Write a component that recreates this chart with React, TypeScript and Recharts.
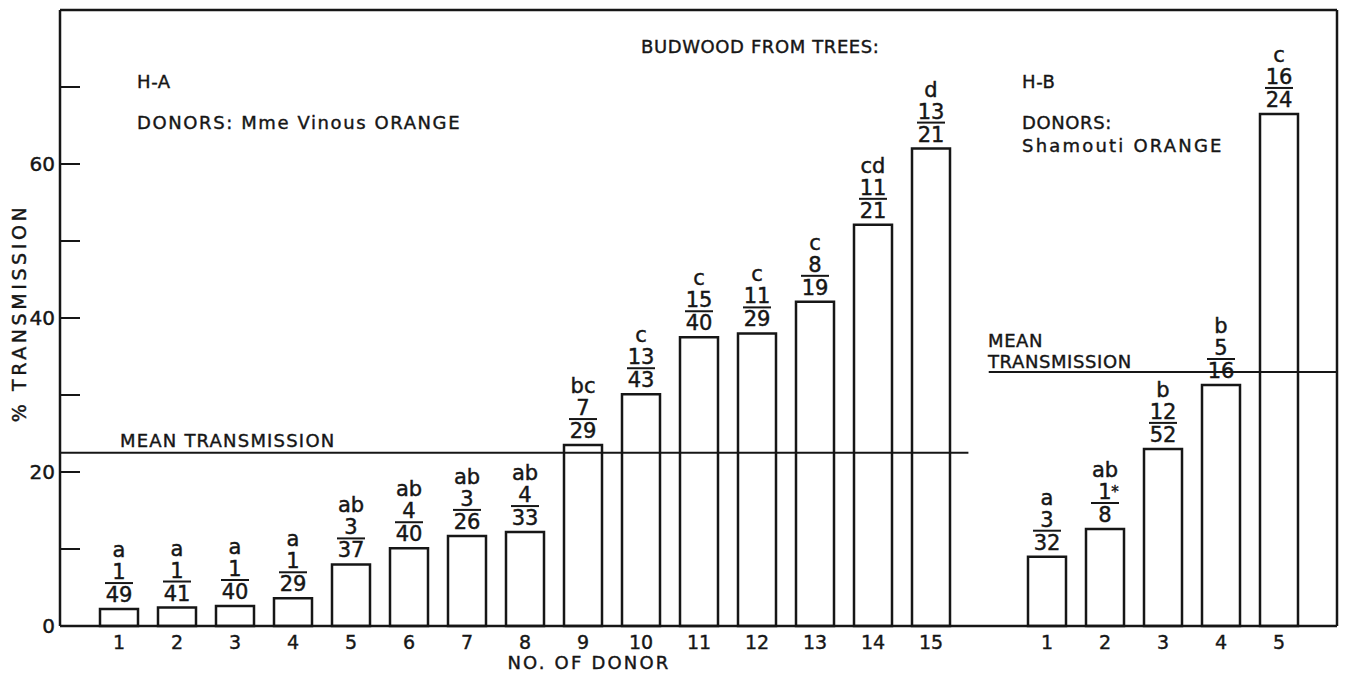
import { Bar, BarChart, LabelList, ReferenceLine, XAxis, YAxis } from "recharts";

// one slot per donor, with an empty slot between the two tree groups
const slots = [
  "A1", "A2", "A3", "A4", "A5", "A6", "A7", "A8", "A9", "A10", "A11", "A12", "A13", "A14", "A15",
  "gap",
  "B1", "B2", "B3", "B4", "B5",
];
const tickLabels = [
  "1", "2", "3", "4", "5", "6", "7", "8", "9", "10", "11", "12", "13", "14", "15",
  "",
  "1", "2", "3", "4", "5",
];
const transmission = [
  2.2, 2.4, 2.6, 3.6, 8.0, 10.1, 11.7, 12.2, 23.5, 30.1, 37.5, 38.0, 42.1, 52.1, 62.0,
  null,
  9.0, 12.6, 23.0, 31.3, 66.5,
];
const groupLetters = [
  "a", "a", "a", "a", "ab", "ab", "ab", "ab", "bc", "c", "c", "c", "c", "cd", "d",
  "",
  "a", "ab", "b", "b", "c",
];
const numerators = [
  "1", "1", "1", "1", "3", "4", "3", "4", "7", "13", "15", "11", "8", "11", "13",
  "",
  "3", "1*", "12", "5", "16",
];
const denominators = [
  "49", "41", "40", "29", "37", "40", "26", "33", "29", "43", "40", "29", "19", "21", "21",
  "",
  "32", "8", "52", "16", "24",
];
const yTicks = [0, 10, 20, 30, 40, 50, 60, 70];
const yLabelled = [0, 20, 40, 60];

// mean transmission per group, with its extent in slot units (0 = left frame, 22 = right frame)
const meanA = { value: 22.5, from: 0, to: 15.65 };
const meanB = { value: 33.0, from: 16, to: 22 };

const data = slots.map((slot, i) => ({ slot, pos: i + 1, value: transmission[i] }));

const INK = "#161616";
const FONT = "'DejaVu Sans', Arial, sans-serif";

function FractionLabel(props: any) {
  const { x, y, width, value } = props;
  const i = slots.indexOf(value);
  if (i < 0 || !groupLetters[i] || y == null || isNaN(y)) return null;
  const cx = x + width / 2;
  const num = numerators[i];
  const star = num.endsWith("*");
  return (
    <g fontFamily={FONT} fontSize={21} fill={INK} stroke={INK} strokeWidth={0.45} textAnchor="middle">
      <text x={cx} y={y - 52}>{groupLetters[i]}</text>
      <text x={cx} y={y - 30}>{star ? num.slice(0, -1) : num}</text>
      {star && (
        <text x={cx + 10} y={y - 32} fontSize={15}>*</text>
      )}
      <line x1={cx - 14} x2={cx + 14} y1={y - 26} y2={y - 26} stroke={INK} strokeWidth={2} />
      <text x={cx} y={y - 7}>{denominators[i]}</text>
    </g>
  );
}

function LeftTick(props: any) {
  const { x, y, payload } = props;
  const v = payload.value;
  return (
    <g>
      {yLabelled.includes(v) && (
        <text x={x} y={y} dy="0.36em" textAnchor="end" fontFamily={FONT} fontSize={20} fill={INK} stroke={INK} strokeWidth={0.45}>
          {v}
        </text>
      )}
      {v > 0 && <line x1={x + 5} x2={x + 25} y1={y} y2={y} stroke={INK} strokeWidth={2} />}
    </g>
  );
}

function RightTick(props: any) {
  const { x, y, payload } = props;
  if (payload.value <= 0) return null;
  return <line x1={x - 20} x2={x} y1={y} y2={y} stroke={INK} strokeWidth={2} />;
}

function DonorTick(props: any) {
  const { x, y, payload } = props;
  const i = slots.indexOf(payload.value);
  return (
    <text x={x} y={y} dy="0.71em" textAnchor="middle" fontFamily={FONT} fontSize={19} fill={INK} stroke={INK} strokeWidth={0.4}>
      {tickLabels[i]}
    </text>
  );
}

export default function App() {
  const text = { fontFamily: FONT, fontSize: 18, fill: INK, stroke: INK, strokeWidth: 0.4, letterSpacing: 0.6 };
  return (
    <div style={{ position: "absolute", left: 0, top: 0, width: 1347, height: 674, background: "#fff" }}>
      <BarChart width={1347} height={674} data={data} margin={{ top: 10, right: 0, bottom: 8, left: 0 }}>
        <XAxis
          dataKey="slot"
          padding={{ left: 30, right: 29 }}
          height={40}
          tickLine={false}
          tickSize={6}
          tickMargin={4}
          interval={0}
          tick={<DonorTick />}
          axisLine={{ stroke: INK, strokeWidth: 2.5 }}
        />
        <XAxis xAxisId="num" dataKey="pos" type="number" domain={[0, 22]} allowDataOverflow hide />
        <YAxis
          yAxisId="left"
          domain={[0, 80]}
          ticks={yTicks}
          width={60}
          tickSize={0}
          tickMargin={5}
          tickLine={false}
          tick={<LeftTick />}
          axisLine={{ stroke: INK, strokeWidth: 2.5 }}
        />
        <YAxis
          yAxisId="right"
          orientation="right"
          domain={[0, 80]}
          ticks={yTicks}
          width={10}
          tickSize={0}
          tickMargin={0}
          tickLine={false}
          tick={<RightTick />}
          axisLine={{ stroke: INK, strokeWidth: 2.5 }}
        />
        <ReferenceLine yAxisId="left" y={80} stroke={INK} strokeWidth={2.5} />
        <ReferenceLine
          yAxisId="left"
          xAxisId="num"
          ifOverflow="extendDomain"
          segment={[{ x: meanA.from, y: meanA.value }, { x: meanA.to, y: meanA.value }]}
          stroke={INK}
          strokeWidth={2}
        />
        <ReferenceLine
          yAxisId="left"
          xAxisId="num"
          ifOverflow="extendDomain"
          segment={[{ x: meanB.from, y: meanB.value }, { x: meanB.to, y: meanB.value }]}
          stroke={INK}
          strokeWidth={2}
        />
        <Bar
          yAxisId="left"
          dataKey="value"
          barSize={38}
          fill="#fff"
          stroke={INK}
          strokeWidth={2.5}
          isAnimationActive={false}
        >
          <LabelList dataKey="slot" content={<FractionLabel />} />
        </Bar>
      </BarChart>
      <svg width={1347} height={674} style={{ position: "absolute", left: 0, top: 0, pointerEvents: "none" }}>
        <text x={641} y={53} {...text}>BUDWOOD FROM TREES:</text>
        <text x={137} y={88} {...text}>H-A</text>
        <text x={137} y={129} {...text} letterSpacing={1.6}>DONORS: Mme Vinous ORANGE</text>
        <text x={1022} y={88} {...text}>H-B</text>
        <text x={1022} y={129} {...text}>DONORS:</text>
        <text x={1022} y={152} {...text} letterSpacing={2.2}>Shamouti ORANGE</text>
        <text x={120} y={447} {...text} letterSpacing={1.2}>MEAN TRANSMISSION</text>
        <text x={988} y={347} {...text}>MEAN</text>
        <text x={988} y={368} {...text}>TRANSMISSION</text>
        <text x={589} y={669} {...text} letterSpacing={2.2} textAnchor="middle">NO. OF DONOR</text>
        <text
          x={0}
          y={0}
          {...text}
          fontSize={19}
          letterSpacing={3.6}
          textAnchor="middle"
          transform="translate(26 313) rotate(-90)"
        >
          % TRANSMISSION
        </text>
      </svg>
    </div>
  );
}
